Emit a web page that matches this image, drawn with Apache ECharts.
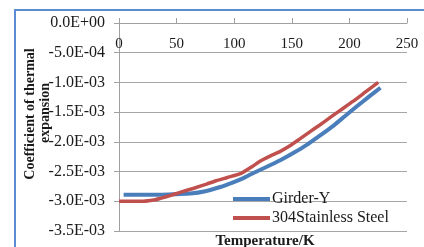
<!DOCTYPE html>
<html>
<head>
<meta charset="utf-8">
<script src="https://cdn.jsdelivr.net/npm/echarts@6/dist/echarts.min.js"></script>
<style>
  html, body { margin: 0; padding: 0; background: #fff; }
  #main { width: 424px; height: 247px; }
</style>
</head>
<body>
<div id="main"></div>
<script>
// Schema: [temperature K, coefficient of thermal expansion]
var seriesNames = ['Girder-Y', '304Stainless Steel'];
var girderY = [
  [4, -0.00289], [20, -0.00289], [36, -0.00289], [50, -0.00288], [62, -0.00287],
  [75, -0.00283], [88, -0.00276], [98, -0.00269], [108, -0.00261], [114, -0.00255],
  [126, -0.00244], [140, -0.00231], [152, -0.00218], [163, -0.00205], [174, -0.0019],
  [186, -0.00173], [196, -0.00157], [206, -0.00141], [217, -0.00124], [227, -0.00109]
];
var stainless = [
  [0, -0.0030], [10, -0.0030], [21, -0.0030], [30, -0.00298], [36, -0.00295],
  [45, -0.0029], [53, -0.00285], [65, -0.00278], [76, -0.00271], [85, -0.00265],
  [94, -0.0026], [106, -0.00253], [116, -0.00241], [122, -0.00233], [131, -0.00224],
  [140, -0.00216], [148, -0.00207], [157, -0.00195], [165, -0.00184], [174, -0.00172],
  [184, -0.00158], [192, -0.00147], [203, -0.00132], [214, -0.00116], [225, -0.0010]
];
var xTicks = { min: 0, max: 250, interval: 50 };
var yTicks = { min: -0.0035, max: 0, interval: 0.0005 };
var xName = 'Temperature/K';
var yName = ['Coefficient of thermal', 'expansion'];

var serif = '"Liberation Serif", "DejaVu Serif", serif';

function sci(v) {
  if (Math.abs(v) < 1e-12) return '0.0E+00';
  var e = Math.floor(Math.log10(Math.abs(v)) + 1e-9);
  var m = v / Math.pow(10, e);
  var ae = Math.abs(e);
  return m.toFixed(1) + 'E' + (e < 0 ? '-' : '+') + (ae < 10 ? '0' + ae : ae);
}

var option = {
  backgroundColor: '#fff',
  animation: false,
  grid: { left: 119, right: 17, top: 23, bottom: 16 },
  legend: {
    left: 228,
    top: 186,
    orient: 'vertical',
    itemWidth: 37,
    itemHeight: 4,
    itemGap: 3,
    icon: 'rect',
    data: seriesNames,
    textStyle: { fontFamily: serif, fontSize: 16, color: '#1a1a1a', padding: [0, 0, 0, -3] }
  },
  xAxis: {
    type: 'value',
    position: 'top',
    min: xTicks.min,
    max: xTicks.max,
    interval: xTicks.interval,
    axisLine: { lineStyle: { color: '#a0a0a0', width: 1 } },
    axisTick: { show: true, inside: false, length: 5, lineStyle: { color: '#a0a0a0' } },
    axisLabel: { inside: true, margin: 14, fontFamily: serif, fontSize: 15, color: '#1a1a1a' },
    splitLine: { show: false }
  },
  yAxis: {
    type: 'value',
    min: yTicks.min,
    max: yTicks.max,
    interval: yTicks.interval,
    axisLine: { show: true, lineStyle: { color: '#a0a0a0', width: 1 } },
    axisTick: { show: true, length: 5, lineStyle: { color: '#a0a0a0' } },
    axisLabel: { margin: 14, fontFamily: serif, fontSize: 16, color: '#1a1a1a', formatter: sci },
    splitLine: { show: true, lineStyle: { color: '#a6a6a6', width: 1 } }
  },
  graphic: [
    {
      type: 'rect', silent: true, z: -1,
      shape: { x: 15, y: 10, width: 430, height: 260 },
      style: { fill: 'none', stroke: '#5b8bd0', lineWidth: 2 }
    },
    {
      type: 'text', x: 30, y: 114, rotation: Math.PI / 2,
      style: { text: yName[0], font: 'bold 14px ' + serif, fill: '#1a1a1a', align: 'center', verticalAlign: 'middle' }
    },
    {
      type: 'text', x: 45, y: 113, rotation: Math.PI / 2,
      style: { text: yName[1], font: 'bold 14px ' + serif, fill: '#1a1a1a', align: 'center', verticalAlign: 'middle' }
    },
    {
      type: 'text', x: 265, y: 241,
      style: { text: xName, font: 'bold 15px ' + serif, fill: '#1a1a1a', align: 'center', verticalAlign: 'middle' }
    }
  ],
  series: [
    {
      name: seriesNames[0], type: 'line', data: girderY, showSymbol: false, symbol: 'none',
      smooth: 0.2,
      itemStyle: { color: '#4a7ebb' }, lineStyle: { color: '#4a7ebb', width: 4 }
    },
    {
      name: seriesNames[1], type: 'line', data: stainless, showSymbol: false, symbol: 'none',
      smooth: 0.2,
      itemStyle: { color: '#c0504d' }, lineStyle: { color: '#c0504d', width: 3.5 }
    }
  ]
};
var chart = echarts.init(document.getElementById('main'));
chart.setOption(option, true);
</script>
</body>
</html>
